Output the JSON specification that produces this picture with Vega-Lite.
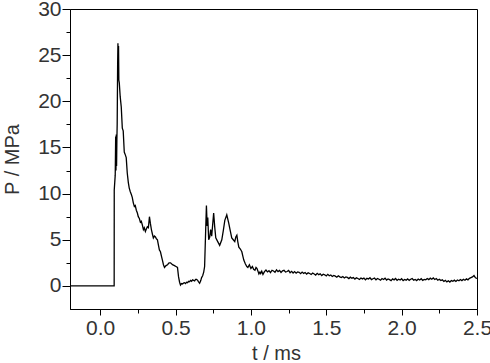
{
  "$schema": "https://vega.github.io/schema/vega-lite/v6.json",
  "width": 407,
  "height": 300,
  "autosize": {"type": "none"},
  "padding": {"left": 70, "top": 9, "right": 13, "bottom": 54},
  "config": {
    "view": {"stroke": "#000", "strokeWidth": 1},
    "axis": {
      "labelFont": "Liberation Sans",
      "titleFont": "Liberation Sans",
      "labelFontSize": 21,
      "titleFontSize": 20,
      "titleFontWeight": "normal",
      "labelColor": "#333",
      "titleColor": "#333",
      "domainColor": "#000",
      "tickColor": "#000",
      "grid": false
    }
  },
  "data": {
    "values": [
      {"t": -0.2, "P": 0},
      {"t": 0.093, "P": 0},
      {"t": 0.0935, "P": 10.4},
      {"t": 0.1, "P": 12.0},
      {"t": 0.103, "P": 16.2},
      {"t": 0.105, "P": 12.5},
      {"t": 0.107, "P": 16.4},
      {"t": 0.109, "P": 13.0},
      {"t": 0.111, "P": 15.8},
      {"t": 0.113, "P": 17.5},
      {"t": 0.116, "P": 24.0},
      {"t": 0.118, "P": 26.3},
      {"t": 0.12, "P": 22.5},
      {"t": 0.122, "P": 26.0},
      {"t": 0.124, "P": 22.3},
      {"t": 0.127, "P": 22.0},
      {"t": 0.133, "P": 20.5},
      {"t": 0.14, "P": 19.4},
      {"t": 0.147, "P": 17.1},
      {"t": 0.153, "P": 16.8},
      {"t": 0.16, "P": 14.5},
      {"t": 0.167, "P": 14.2},
      {"t": 0.173, "P": 13.9},
      {"t": 0.18, "P": 12.2},
      {"t": 0.187, "P": 11.2},
      {"t": 0.193, "P": 10.6},
      {"t": 0.2, "P": 10.2},
      {"t": 0.207, "P": 9.9},
      {"t": 0.213, "P": 9.6},
      {"t": 0.22, "P": 9.0},
      {"t": 0.227, "P": 8.6},
      {"t": 0.233, "P": 8.7},
      {"t": 0.24, "P": 8.2},
      {"t": 0.247, "P": 7.9},
      {"t": 0.253, "P": 7.5},
      {"t": 0.26, "P": 7.3},
      {"t": 0.267, "P": 6.9},
      {"t": 0.273, "P": 7.0},
      {"t": 0.28, "P": 6.6},
      {"t": 0.287, "P": 6.1},
      {"t": 0.293, "P": 6.3},
      {"t": 0.3, "P": 5.9},
      {"t": 0.307, "P": 6.2},
      {"t": 0.313, "P": 6.4},
      {"t": 0.32, "P": 6.3},
      {"t": 0.327, "P": 7.5},
      {"t": 0.333, "P": 6.8},
      {"t": 0.34, "P": 6.1},
      {"t": 0.347, "P": 5.6},
      {"t": 0.353, "P": 5.2},
      {"t": 0.36, "P": 5.4},
      {"t": 0.367, "P": 5.3},
      {"t": 0.373, "P": 5.1},
      {"t": 0.38, "P": 5.0},
      {"t": 0.387, "P": 4.4},
      {"t": 0.393, "P": 3.9},
      {"t": 0.4, "P": 3.7},
      {"t": 0.407, "P": 3.2},
      {"t": 0.413, "P": 2.8},
      {"t": 0.42, "P": 2.3},
      {"t": 0.427, "P": 2.0},
      {"t": 0.437, "P": 2.2},
      {"t": 0.447, "P": 2.3},
      {"t": 0.457, "P": 2.5},
      {"t": 0.467, "P": 2.5},
      {"t": 0.48, "P": 2.3},
      {"t": 0.493, "P": 2.2},
      {"t": 0.503, "P": 2.1},
      {"t": 0.513, "P": 2.0},
      {"t": 0.52, "P": 1.0},
      {"t": 0.527, "P": 0.4},
      {"t": 0.533, "P": 0.1},
      {"t": 0.54, "P": 0.25},
      {"t": 0.547, "P": 0.2},
      {"t": 0.553, "P": 0.3},
      {"t": 0.56, "P": 0.35},
      {"t": 0.567, "P": 0.25},
      {"t": 0.573, "P": 0.4},
      {"t": 0.58, "P": 0.35},
      {"t": 0.587, "P": 0.5},
      {"t": 0.593, "P": 0.45},
      {"t": 0.6, "P": 0.6},
      {"t": 0.607, "P": 0.5},
      {"t": 0.613, "P": 0.65},
      {"t": 0.62, "P": 0.6},
      {"t": 0.627, "P": 0.55},
      {"t": 0.633, "P": 0.7},
      {"t": 0.64, "P": 0.7},
      {"t": 0.647, "P": 0.6},
      {"t": 0.653, "P": 0.45},
      {"t": 0.66, "P": 0.3},
      {"t": 0.667, "P": 0.55},
      {"t": 0.673, "P": 0.9},
      {"t": 0.68, "P": 1.1},
      {"t": 0.687, "P": 1.5},
      {"t": 0.693, "P": 2.1},
      {"t": 0.7, "P": 6.0},
      {"t": 0.705, "P": 8.7},
      {"t": 0.71, "P": 6.5},
      {"t": 0.714, "P": 7.4},
      {"t": 0.72, "P": 5.0},
      {"t": 0.727, "P": 5.3},
      {"t": 0.733, "P": 6.1},
      {"t": 0.74, "P": 5.4},
      {"t": 0.753, "P": 7.9},
      {"t": 0.76, "P": 6.4},
      {"t": 0.767, "P": 5.2},
      {"t": 0.78, "P": 4.8},
      {"t": 0.793, "P": 4.4},
      {"t": 0.807, "P": 5.0},
      {"t": 0.817, "P": 6.0},
      {"t": 0.827, "P": 7.1},
      {"t": 0.84, "P": 7.7},
      {"t": 0.853, "P": 6.8},
      {"t": 0.863, "P": 6.0},
      {"t": 0.873, "P": 5.2},
      {"t": 0.883, "P": 5.0},
      {"t": 0.893, "P": 4.8},
      {"t": 0.9, "P": 5.3},
      {"t": 0.907, "P": 5.5},
      {"t": 0.913, "P": 4.8},
      {"t": 0.92, "P": 4.2},
      {"t": 0.93, "P": 4.0},
      {"t": 0.94, "P": 3.7},
      {"t": 0.947, "P": 3.2},
      {"t": 0.953, "P": 2.8},
      {"t": 0.963, "P": 2.4},
      {"t": 0.973, "P": 2.1},
      {"t": 0.98, "P": 2.0},
      {"t": 0.99, "P": 2.3},
      {"t": 1.0, "P": 1.9},
      {"t": 1.01, "P": 2.1},
      {"t": 1.018, "P": 1.8},
      {"t": 1.027, "P": 1.7},
      {"t": 1.034, "P": 2.0},
      {"t": 1.04, "P": 1.9},
      {"t": 1.047, "P": 1.6},
      {"t": 1.053, "P": 1.3},
      {"t": 1.06, "P": 1.5},
      {"t": 1.065, "P": 1.35},
      {"t": 1.072, "P": 1.6},
      {"t": 1.08, "P": 1.25},
      {"t": 1.09, "P": 1.55},
      {"t": 1.1, "P": 1.72},
      {"t": 1.11, "P": 1.52},
      {"t": 1.12, "P": 1.65},
      {"t": 1.13, "P": 1.45},
      {"t": 1.14, "P": 1.7},
      {"t": 1.15, "P": 1.62},
      {"t": 1.16, "P": 1.48},
      {"t": 1.17, "P": 1.74},
      {"t": 1.18, "P": 1.55},
      {"t": 1.19, "P": 1.68},
      {"t": 1.2, "P": 1.46},
      {"t": 1.21, "P": 1.63},
      {"t": 1.22, "P": 1.7},
      {"t": 1.23, "P": 1.5},
      {"t": 1.24, "P": 1.56},
      {"t": 1.25, "P": 1.67},
      {"t": 1.26, "P": 1.43},
      {"t": 1.27, "P": 1.58},
      {"t": 1.28, "P": 1.4},
      {"t": 1.29, "P": 1.55},
      {"t": 1.3, "P": 1.38},
      {"t": 1.31, "P": 1.52},
      {"t": 1.32, "P": 1.47},
      {"t": 1.33, "P": 1.33},
      {"t": 1.34, "P": 1.5},
      {"t": 1.35, "P": 1.36},
      {"t": 1.36, "P": 1.45},
      {"t": 1.37, "P": 1.28},
      {"t": 1.38, "P": 1.42},
      {"t": 1.39, "P": 1.35},
      {"t": 1.4, "P": 1.24},
      {"t": 1.41, "P": 1.4},
      {"t": 1.42, "P": 1.3},
      {"t": 1.43, "P": 1.18},
      {"t": 1.44, "P": 1.36},
      {"t": 1.45, "P": 1.22},
      {"t": 1.46, "P": 1.3},
      {"t": 1.47, "P": 1.12},
      {"t": 1.48, "P": 1.27},
      {"t": 1.49, "P": 1.2},
      {"t": 1.5, "P": 1.08},
      {"t": 1.51, "P": 1.25},
      {"t": 1.52, "P": 1.1},
      {"t": 1.53, "P": 1.18},
      {"t": 1.54, "P": 1.02},
      {"t": 1.55, "P": 1.14},
      {"t": 1.56, "P": 1.06},
      {"t": 1.57, "P": 0.94},
      {"t": 1.58, "P": 1.1},
      {"t": 1.59, "P": 0.98},
      {"t": 1.6, "P": 0.9},
      {"t": 1.61, "P": 1.02},
      {"t": 1.62, "P": 0.86},
      {"t": 1.63, "P": 0.97},
      {"t": 1.64, "P": 0.92},
      {"t": 1.65, "P": 0.8},
      {"t": 1.66, "P": 0.95},
      {"t": 1.67, "P": 0.84},
      {"t": 1.68, "P": 0.9},
      {"t": 1.69, "P": 0.74},
      {"t": 1.7, "P": 0.88},
      {"t": 1.71, "P": 0.8},
      {"t": 1.72, "P": 0.7},
      {"t": 1.73, "P": 0.86},
      {"t": 1.74, "P": 0.76},
      {"t": 1.75, "P": 0.84},
      {"t": 1.76, "P": 0.66},
      {"t": 1.77, "P": 0.82},
      {"t": 1.78, "P": 0.74},
      {"t": 1.79, "P": 0.88},
      {"t": 1.8, "P": 0.68},
      {"t": 1.81, "P": 0.78},
      {"t": 1.82, "P": 0.86},
      {"t": 1.83, "P": 0.66},
      {"t": 1.84, "P": 0.8},
      {"t": 1.85, "P": 0.72},
      {"t": 1.86, "P": 0.62},
      {"t": 1.87, "P": 0.8},
      {"t": 1.88, "P": 0.7},
      {"t": 1.89, "P": 0.84},
      {"t": 1.9, "P": 0.64},
      {"t": 1.91, "P": 0.76},
      {"t": 1.92, "P": 0.68},
      {"t": 1.93, "P": 0.58},
      {"t": 1.94, "P": 0.76},
      {"t": 1.95, "P": 0.66},
      {"t": 1.96, "P": 0.8},
      {"t": 1.97, "P": 0.6},
      {"t": 1.98, "P": 0.72},
      {"t": 1.99, "P": 0.64},
      {"t": 2.0, "P": 0.78},
      {"t": 2.01, "P": 0.58},
      {"t": 2.02, "P": 0.7},
      {"t": 2.03, "P": 0.62},
      {"t": 2.04, "P": 0.76},
      {"t": 2.05, "P": 0.6},
      {"t": 2.06, "P": 0.72},
      {"t": 2.07, "P": 0.8},
      {"t": 2.08, "P": 0.62},
      {"t": 2.09, "P": 0.7},
      {"t": 2.1, "P": 0.58},
      {"t": 2.11, "P": 0.74},
      {"t": 2.12, "P": 0.64},
      {"t": 2.13, "P": 0.78},
      {"t": 2.14, "P": 0.6},
      {"t": 2.15, "P": 0.7},
      {"t": 2.16, "P": 0.66},
      {"t": 2.17, "P": 0.8},
      {"t": 2.18, "P": 0.68},
      {"t": 2.19, "P": 0.84},
      {"t": 2.2, "P": 0.72},
      {"t": 2.21, "P": 0.86},
      {"t": 2.22, "P": 0.7},
      {"t": 2.23, "P": 0.8},
      {"t": 2.24, "P": 0.62},
      {"t": 2.25, "P": 0.72},
      {"t": 2.26, "P": 0.58},
      {"t": 2.27, "P": 0.66},
      {"t": 2.28, "P": 0.48},
      {"t": 2.29, "P": 0.6},
      {"t": 2.3, "P": 0.44},
      {"t": 2.31, "P": 0.56},
      {"t": 2.32, "P": 0.42},
      {"t": 2.33, "P": 0.58},
      {"t": 2.34, "P": 0.5},
      {"t": 2.35, "P": 0.62},
      {"t": 2.36, "P": 0.48},
      {"t": 2.37, "P": 0.64},
      {"t": 2.38, "P": 0.56},
      {"t": 2.39, "P": 0.7},
      {"t": 2.4, "P": 0.58},
      {"t": 2.41, "P": 0.72},
      {"t": 2.42, "P": 0.62},
      {"t": 2.43, "P": 0.76},
      {"t": 2.44, "P": 0.66},
      {"t": 2.45, "P": 0.82},
      {"t": 2.46, "P": 0.9},
      {"t": 2.47, "P": 0.98},
      {"t": 2.48, "P": 1.12},
      {"t": 2.49, "P": 0.88},
      {"t": 2.5, "P": 0.8}
    ]
  },
  "layer": [
    {
      "mark": {"type": "line", "color": "#000", "strokeWidth": 1.3},
      "encoding": {
        "x": {
          "field": "t", "type": "quantitative",
          "scale": {"domain": [-0.2, 2.5], "nice": false, "zero": false},
          "axis": {"orient": "bottom", "values": [0, 0.5, 1, 1.5, 2, 2.5], "format": ".1f", "tickSize": 6, "labelPadding": 2, "title": "t / ms", "titleX": 206, "titleY": 50, "titleBaseline": "alphabetic", "titleAlign": "center", "labelFlush": false, "labelOverlap": false}
        },
        "y": {
          "field": "P", "type": "quantitative",
          "scale": {"domain": [-2.5, 30], "nice": false, "zero": false},
          "axis": {"orient": "left", "values": [0, 5, 10, 15, 20, 25, 30], "tickSize": 8, "labelPadding": 1, "title": "P / MPa", "titleX": -52, "titleY": 150, "titleBaseline": "alphabetic", "titleAlign": "center", "titleAngle": -90, "labelFlush": false, "labelOverlap": false}
        }
      }
    },
    {
      "mark": {"type": "line", "strokeOpacity": 0},
      "encoding": {
        "x": {
          "field": "t", "type": "quantitative",
          "scale": {"domain": [-0.2, 2.5], "nice": false, "zero": false},
          "axis": {"orient": "bottom", "values": [0.25, 0.75, 1.25, 1.75, 2.25], "tickSize": 4, "labels": false, "domain": false, "title": null}
        },
        "y": {
          "field": "P", "type": "quantitative",
          "scale": {"domain": [-2.5, 30], "nice": false, "zero": false},
          "axis": {"orient": "left", "values": [2.5, 7.5, 12.5, 17.5, 22.5, 27.5], "tickSize": 4, "labels": false, "domain": false, "title": null}
        }
      }
    }
  ],
  "resolve": {"axis": {"x": "independent", "y": "independent"}}
}
